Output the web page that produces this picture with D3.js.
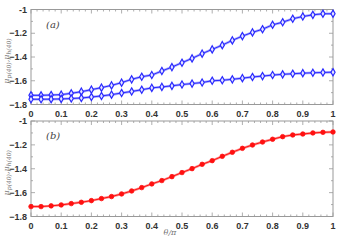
<!DOCTYPE html>
<html><head><meta charset="utf-8">
<script src="https://cdn.jsdelivr.net/npm/d3@7"></script>
<style>body{margin:0;background:#fff}svg{display:block}</style>
</head><body>
<script>
const theta = d3.range(31).map(i => i / 30);
const muUpperA = [-1.723,-1.723,-1.720,-1.717,-1.706,-1.692,-1.675,-1.658,-1.639,-1.616,-1.588,-1.566,-1.552,-1.518,-1.485,-1.448,-1.412,-1.372,-1.336,-1.300,-1.260,-1.224,-1.193,-1.166,-1.129,-1.107,-1.078,-1.059,-1.045,-1.036,-1.036];
const muLowerA = [-1.756,-1.756,-1.755,-1.753,-1.750,-1.745,-1.737,-1.728,-1.717,-1.703,-1.690,-1.676,-1.660,-1.652,-1.643,-1.632,-1.624,-1.615,-1.600,-1.596,-1.588,-1.578,-1.568,-1.561,-1.552,-1.546,-1.541,-1.536,-1.533,-1.530,-1.528];
const muB = [-1.717,-1.717,-1.711,-1.703,-1.692,-1.681,-1.667,-1.650,-1.633,-1.611,-1.586,-1.558,-1.527,-1.499,-1.466,-1.432,-1.399,-1.363,-1.332,-1.296,-1.262,-1.229,-1.201,-1.176,-1.153,-1.131,-1.117,-1.109,-1.100,-1.095,-1.092];
const xTicks = [0,0.1,0.2,0.3,0.4,0.5,0.6,0.7,0.8,0.9,1];
const yTicks = [-1,-1.2,-1.4,-1.6,-1.8];

const W = 340, H = 240;
const svg = d3.select("body").append("svg").attr("width", W).attr("height", H);
const x = d3.scaleLinear().domain([0,1]).range([31,333]);

function panel(top, bottom, series, label, xlab){
  const y = d3.scaleLinear().domain([-1.8,-1]).range([bottom, top]);
  const g = svg.append("g");
  const frameCol = "#999";
  const xMinor = d3.range(0,1.0001,0.02);
  const yMinor = d3.range(-1.8,-0.9999,0.1);
  xMinor.forEach(v => {
    const major = Math.abs(Math.round(v*10)-v*10) < 1e-6;
    const L = major ? 4 : 2;
    g.append("line").attr("x1",x(v)).attr("x2",x(v)).attr("y1",bottom).attr("y2",bottom-L).attr("stroke",frameCol).attr("stroke-width",0.8);
    g.append("line").attr("x1",x(v)).attr("x2",x(v)).attr("y1",top).attr("y2",top+L).attr("stroke",frameCol).attr("stroke-width",0.8);
  });
  yMinor.forEach(v => {
    const major = Math.abs(Math.round(v*5)-v*5) < 1e-6;
    const L = major ? 4 : 2;
    g.append("line").attr("x1",31).attr("x2",31+L).attr("y1",y(v)).attr("y2",y(v)).attr("stroke",frameCol).attr("stroke-width",0.8);
    g.append("line").attr("x1",333).attr("x2",333-L).attr("y1",y(v)).attr("y2",y(v)).attr("stroke",frameCol).attr("stroke-width",0.8);
  });
  g.append("rect").attr("x",31).attr("y",top).attr("width",302).attr("height",bottom-top)
    .attr("fill","none").attr("stroke",frameCol).attr("stroke-width",1);
  xTicks.forEach(v => g.append("text").attr("x",x(v)).attr("y",bottom+12).attr("text-anchor","middle")
    .attr("font-family","Liberation Sans, Arial, sans-serif").attr("font-size",9).attr("font-weight","bold").attr("fill","#333")
    .text(v===0?"0":(v===1?"1":d3.format(".1f")(v))));
  yTicks.forEach(v => g.append("text").attr("x",27).attr("y",y(v)+3).attr("text-anchor","end")
    .attr("font-family","Liberation Sans, Arial, sans-serif").attr("font-size",9).attr("font-weight","bold").attr("fill","#333")
    .text(v===-1?"-1":d3.format(".1f")(v)));
  const yl = g.append("text").attr("transform",`translate(8.5,${(top+bottom)/2 + 4}) rotate(-90)`).attr("text-anchor","middle")
    .attr("font-family","DejaVu Serif, serif").attr("font-style","italic").attr("font-size",8).attr("fill","#777");
  yl.append("tspan").text("μ");
  yl.append("tspan").attr("font-size",6).attr("dy",2).text("p(40)");
  yl.append("tspan").attr("dy",-2).text(",μ");
  yl.append("tspan").attr("font-size",6).attr("dy",2).text("h(40)");
  g.append("text").attr("x",46).attr("y",top+18).attr("font-family","DejaVu Serif, serif").attr("font-style","italic")
    .attr("font-size",10).attr("fill","#444").text(label);
  if (xlab) {
    g.append("text").attr("x",170).attr("y",bottom+18).attr("text-anchor","middle").attr("font-family","DejaVu Serif, serif")
      .attr("font-style","italic").attr("font-size",8).attr("fill","#777").text("θ/π");
  }
  series.forEach(s => {
    const line = d3.line().x((d,i)=>x(theta[i])).y(d=>y(d));
    g.append("path").attr("d",line(s.vals)).attr("fill","none").attr("stroke",s.halo).attr("stroke-width",2.5);
    g.append("path").attr("d",line(s.vals)).attr("fill","none").attr("stroke",s.col).attr("stroke-width",1);
    const sym = d3.symbol().type(s.type).size(s.size);
    g.selectAll(null).data(s.vals).enter().append("path")
      .attr("transform",(d,i)=>`translate(${x(theta[i])},${y(d)})`)
      .attr("d",sym).attr("fill",s.fill).attr("stroke",s.col).attr("stroke-width",s.sw);
  });
}

panel(9.5, 104.5, [
  {vals: muUpperA, col:"#2a2aff", halo:"#a9a9ff", fill:"#e6e6ff", type:d3.symbolDiamond, size:15, sw:1.2},
  {vals: muLowerA, col:"#2a2aff", halo:"#a9a9ff", fill:"#e6e6ff", type:d3.symbolDiamond, size:15, sw:1.2}
], "(a)", false);
panel(121, 216.5, [
  {vals: muB, col:"#ff1010", halo:"#ff9090", fill:"#ff1010", type:d3.symbolCircle, size:16, sw:0.8}
], "(b)", true);
</script>
</body></html>
